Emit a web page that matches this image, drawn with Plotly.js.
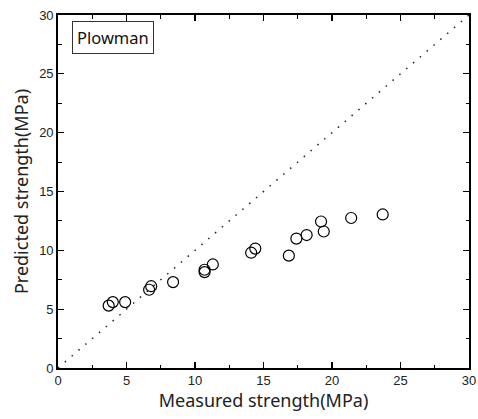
<!DOCTYPE html>
<html>
<head>
<meta charset="utf-8">
<script src="https://cdn.plot.ly/plotly-3.0.1.min.js"></script>
<style>html,body{margin:0;padding:0;background:#fff;}#chart{width:478px;height:419px;}</style>
</head>
<body>
<div id="chart"></div>
<script>
const measured = [3.7, 4.0, 4.9, 6.65, 6.8, 8.4, 10.7, 10.7, 11.3, 14.1, 14.4, 16.85, 17.4, 18.15, 19.2, 19.4, 21.4, 23.7];
const predicted = [5.3, 5.6, 5.6, 6.65, 6.95, 7.3, 8.15, 8.35, 8.8, 9.8, 10.15, 9.55, 11.0, 11.3, 12.45, 11.6, 12.75, 13.05];
const refLineX = [0, 30];
const refLineY = [0, 30];
const xTitle = 'Measured strength(MPa)';
const yTitle = 'Predicted strength(MPa)';
const legendLabel = 'Plowman';

const axisBase = {
  range: [0, 30], dtick: 5, tick0: 0,
  showgrid: false, zeroline: false,
  showline: true, linecolor: '#000', linewidth: 1.8, mirror: 'allticks',
  ticks: 'inside', ticklen: 6, tickwidth: 1.2, tickcolor: '#000',
  minor: {ticks: 'inside', dtick: 2.5, ticklen: 3.5, tickwidth: 1, tickcolor: '#000', showgrid: false},
  tickfont: {family: 'Liberation Sans, Arial, sans-serif', size: 13, color: '#222'},
  fixedrange: true
};

const titleFont = {family: 'Noto Sans, sans-serif', size: 18, color: '#222'};

const data = [
  {x: refLineX, y: refLineY, mode: 'lines', type: 'scatter',
   line: {color: '#222', width: 1.5, dash: '1.5px,7.5px'}, hoverinfo: 'skip', showlegend: false},
  {x: measured, y: predicted, mode: 'markers', type: 'scatter', name: legendLabel,
   marker: {symbol: 'circle-open', size: 11, color: '#000', line: {width: 1.2, color: '#000'}}, showlegend: false}
];

const layout = {
  width: 478, height: 419,
  margin: {l: 58, r: 9, t: 15, b: 51},
  paper_bgcolor: '#fff', plot_bgcolor: '#fff',
  xaxis: Object.assign({}, axisBase, {
    title: {text: xTitle, font: titleFont, standoff: 7}
  }),
  yaxis: Object.assign({}, axisBase, {
    title: {text: yTitle, font: titleFont, standoff: 6}
  }),
  annotations: [{
    text: legendLabel, xref: 'paper', yref: 'paper', x: 0.034, y: 0.982,
    xanchor: 'left', yanchor: 'top', showarrow: false,
    font: {family: 'Noto Sans, sans-serif', size: 16.5, color: '#111'},
    bordercolor: '#333', borderwidth: 1, borderpad: 4, bgcolor: '#fff'
  }],
  showlegend: false
};

Plotly.newPlot('chart', data, layout, {staticPlot: true, displayModeBar: false});
</script>
</body>
</html>
